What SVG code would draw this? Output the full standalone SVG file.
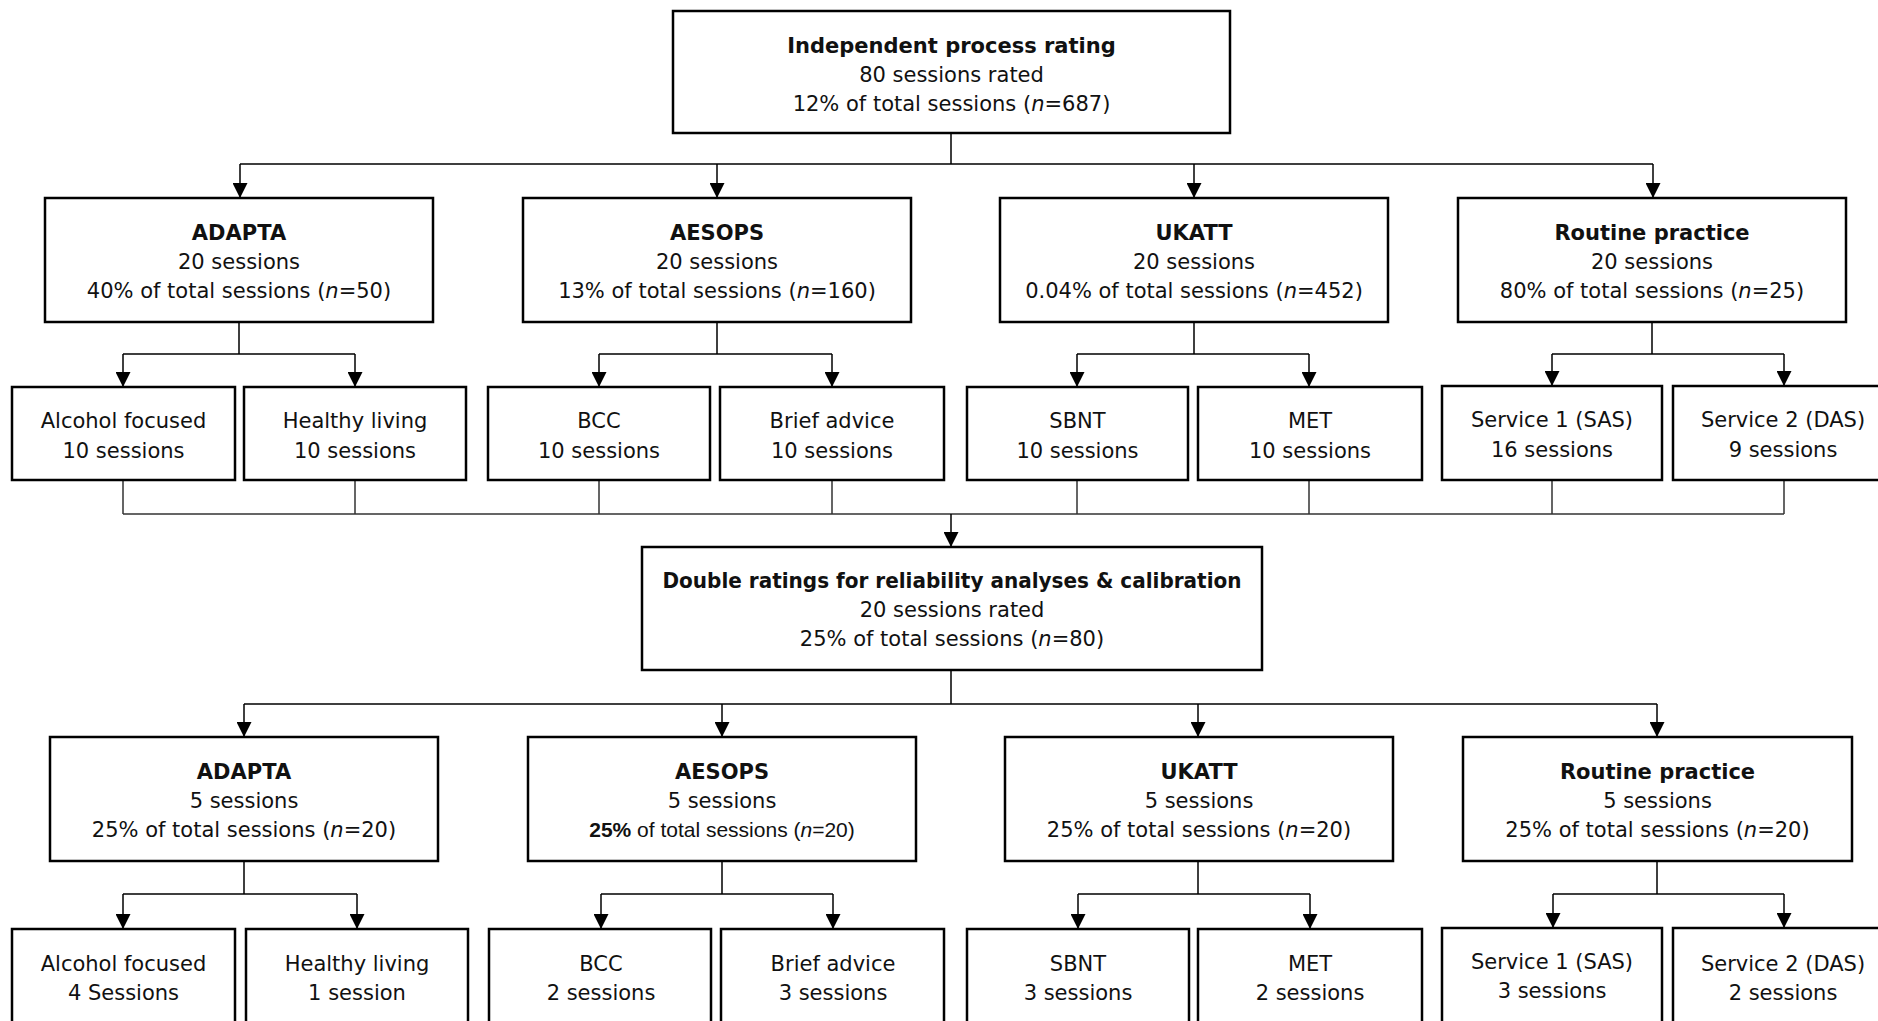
<svg xmlns="http://www.w3.org/2000/svg" width="1878" height="1021" viewBox="0 0 1878 1021">
<style>
  .box { fill: #ffffff; stroke: #000000; stroke-width: 2.5; }
  .cn { fill: none; stroke: #000000; stroke-width: 1.5; }
  .mg { fill: none; stroke: #333333; stroke-width: 1.5; }
  text { font-family: "DejaVu Sans", "Liberation Sans", sans-serif; font-size: 21px; fill: #111111; text-anchor: middle; }
  .b { font-weight: bold; }
  .i { font-style: italic; }
  .alt { font-family: "Liberation Sans", Arial, sans-serif; }
</style>
<defs>
  <marker id="ah" viewBox="0 0 15 15" refX="15" refY="7.5" markerWidth="15" markerHeight="15" markerUnits="userSpaceOnUse" orient="auto">
    <path d="M0,0 L15,7.5 L0,15 z" fill="#000000"/>
  </marker>
</defs>
<rect width="1878" height="1021" fill="#ffffff"/>

<g id="connectors">
  <!-- top to row 2 -->
  <path class="cn" d="M951,133 V164 M240,164 H1653"/>
  <path class="cn" d="M240,164 V198" marker-end="url(#ah)"/>
  <path class="cn" d="M717,164 V198" marker-end="url(#ah)"/>
  <path class="cn" d="M1194,164 V198" marker-end="url(#ah)"/>
  <path class="cn" d="M1653,164 V198" marker-end="url(#ah)"/>
  <!-- row 2 branches -->
  <path class="cn" d="M239,322 V354 M123,354 H355"/>
  <path class="cn" d="M123,354 V387" marker-end="url(#ah)"/>
  <path class="cn" d="M355,354 V387" marker-end="url(#ah)"/>
  <path class="cn" d="M717,322 V354 M599,354 H832"/>
  <path class="cn" d="M599,354 V387" marker-end="url(#ah)"/>
  <path class="cn" d="M832,354 V387" marker-end="url(#ah)"/>
  <path class="cn" d="M1194,322 V354 M1077,354 H1309"/>
  <path class="cn" d="M1077,354 V387" marker-end="url(#ah)"/>
  <path class="cn" d="M1309,354 V387" marker-end="url(#ah)"/>
  <path class="cn" d="M1652,322 V354 M1552,354 H1784"/>
  <path class="cn" d="M1552,354 V386" marker-end="url(#ah)"/>
  <path class="cn" d="M1784,354 V386" marker-end="url(#ah)"/>
  <!-- merge to double ratings -->
  <path class="mg" d="M123,480 V514 M355,480 V514 M599,480 V514 M832,480 V514 M1077,480 V514 M1309,480 V514 M1552,480 V514 M1784,480 V514 M123,514 H1784"/>
  <path class="cn" d="M951,514 V547" marker-end="url(#ah)"/>
  <!-- double to row 4 -->
  <path class="cn" d="M951,670 V704 M244,704 H1657"/>
  <path class="cn" d="M244,704 V737" marker-end="url(#ah)"/>
  <path class="cn" d="M722,704 V737" marker-end="url(#ah)"/>
  <path class="cn" d="M1198,704 V737" marker-end="url(#ah)"/>
  <path class="cn" d="M1657,704 V737" marker-end="url(#ah)"/>
  <!-- row 4 branches -->
  <path class="cn" d="M244,861 V894 M123,894 H357"/>
  <path class="cn" d="M123,894 V929" marker-end="url(#ah)"/>
  <path class="cn" d="M357,894 V929" marker-end="url(#ah)"/>
  <path class="cn" d="M722,861 V894 M601,894 H833"/>
  <path class="cn" d="M601,894 V929" marker-end="url(#ah)"/>
  <path class="cn" d="M833,894 V929" marker-end="url(#ah)"/>
  <path class="cn" d="M1198,861 V894 M1078,894 H1310"/>
  <path class="cn" d="M1078,894 V929" marker-end="url(#ah)"/>
  <path class="cn" d="M1310,894 V929" marker-end="url(#ah)"/>
  <path class="cn" d="M1657,861 V894 M1553,894 H1784"/>
  <path class="cn" d="M1553,894 V928" marker-end="url(#ah)"/>
  <path class="cn" d="M1784,894 V928" marker-end="url(#ah)"/>
</g>

<g id="node-top">
  <rect class="box" x="673" y="11" width="557" height="122"/>
  <text x="951.5" y="53" class="b">Independent process rating</text>
  <text x="951.5" y="82">80 sessions rated</text>
  <text x="951.5" y="111">12% of total sessions (<tspan class="i">n</tspan>=687)</text>
</g>

<g id="node-adapta-1">
  <rect class="box" x="45" y="198" width="388" height="124"/>
  <text x="239" y="240" class="b">ADAPTA</text>
  <text x="239" y="269">20 sessions</text>
  <text x="239" y="298">40% of total sessions (<tspan class="i">n</tspan>=50)</text>
</g>
<g id="node-aesops-1">
  <rect class="box" x="523" y="198" width="388" height="124"/>
  <text x="717" y="240" class="b">AESOPS</text>
  <text x="717" y="269">20 sessions</text>
  <text x="717" y="298">13% of total sessions (<tspan class="i">n</tspan>=160)</text>
</g>
<g id="node-ukatt-1">
  <rect class="box" x="1000" y="198" width="388" height="124"/>
  <text x="1194" y="240" class="b">UKATT</text>
  <text x="1194" y="269">20 sessions</text>
  <text x="1194" y="298">0.04% of total sessions (<tspan class="i">n</tspan>=452)</text>
</g>
<g id="node-routine-1">
  <rect class="box" x="1458" y="198" width="388" height="124"/>
  <text x="1652" y="240" class="b">Routine practice</text>
  <text x="1652" y="269">20 sessions</text>
  <text x="1652" y="298">80% of total sessions (<tspan class="i">n</tspan>=25)</text>
</g>

<g id="node-alcohol-1">
  <rect class="box" x="12" y="387" width="223" height="93"/>
  <text x="123.5" y="428">Alcohol focused</text>
  <text x="123.5" y="458">10 sessions</text>
</g>
<g id="node-healthy-1">
  <rect class="box" x="244" y="387" width="222" height="93"/>
  <text x="355" y="428">Healthy living</text>
  <text x="355" y="458">10 sessions</text>
</g>
<g id="node-bcc-1">
  <rect class="box" x="488" y="387" width="222" height="93"/>
  <text x="599" y="428">BCC</text>
  <text x="599" y="458">10 sessions</text>
</g>
<g id="node-brief-1">
  <rect class="box" x="720" y="387" width="224" height="93"/>
  <text x="832" y="428">Brief advice</text>
  <text x="832" y="458">10 sessions</text>
</g>
<g id="node-sbnt-1">
  <rect class="box" x="967" y="387" width="221" height="93"/>
  <text x="1077.5" y="428">SBNT</text>
  <text x="1077.5" y="458">10 sessions</text>
</g>
<g id="node-met-1">
  <rect class="box" x="1198" y="387" width="224" height="93"/>
  <text x="1310" y="428">MET</text>
  <text x="1310" y="458">10 sessions</text>
</g>
<g id="node-service1-1">
  <rect class="box" x="1442" y="386" width="220" height="94"/>
  <text x="1552" y="427">Service 1 (SAS)</text>
  <text x="1552" y="457">16 sessions</text>
</g>
<g id="node-service2-1">
  <rect class="box" x="1673" y="386" width="220" height="94"/>
  <text x="1783" y="427">Service 2 (DAS)</text>
  <text x="1783" y="457">9 sessions</text>
</g>

<g id="node-double">
  <rect class="box" x="642" y="547" width="620" height="123"/>
  <text x="952" y="588" class="b" textLength="579" lengthAdjust="spacingAndGlyphs">Double ratings for reliability analyses &amp; calibration</text>
  <text x="952" y="617">20 sessions rated</text>
  <text x="952" y="646">25% of total sessions (<tspan class="i">n</tspan>=80)</text>
</g>

<g id="node-adapta-2">
  <rect class="box" x="50" y="737" width="388" height="124"/>
  <text x="244" y="779" class="b">ADAPTA</text>
  <text x="244" y="808">5 sessions</text>
  <text x="244" y="837">25% of total sessions (<tspan class="i">n</tspan>=20)</text>
</g>
<g id="node-aesops-2">
  <rect class="box" x="528" y="737" width="388" height="124"/>
  <text x="722" y="779" class="b">AESOPS</text>
  <text x="722" y="808">5 sessions</text>
  <text x="722" y="837" class="alt"><tspan class="b">25%</tspan> of total sessions (<tspan class="i">n</tspan>=20)</text>
</g>
<g id="node-ukatt-2">
  <rect class="box" x="1005" y="737" width="388" height="124"/>
  <text x="1199" y="779" class="b">UKATT</text>
  <text x="1199" y="808">5 sessions</text>
  <text x="1199" y="837">25% of total sessions (<tspan class="i">n</tspan>=20)</text>
</g>
<g id="node-routine-2">
  <rect class="box" x="1463" y="737" width="389" height="124"/>
  <text x="1657.5" y="779" class="b">Routine practice</text>
  <text x="1657.5" y="808">5 sessions</text>
  <text x="1657.5" y="837">25% of total sessions (<tspan class="i">n</tspan>=20)</text>
</g>

<g id="node-alcohol-2">
  <rect class="box" x="12" y="929" width="223" height="110"/>
  <text x="123.5" y="971">Alcohol focused</text>
  <text x="123.5" y="1000">4 Sessions</text>
</g>
<g id="node-healthy-2">
  <rect class="box" x="246" y="929" width="222" height="110"/>
  <text x="357" y="971">Healthy living</text>
  <text x="357" y="1000">1 session</text>
</g>
<g id="node-bcc-2">
  <rect class="box" x="489" y="929" width="222" height="110"/>
  <text x="601" y="971">BCC</text>
  <text x="601" y="1000">2 sessions</text>
</g>
<g id="node-brief-2">
  <rect class="box" x="721" y="929" width="223" height="110"/>
  <text x="833" y="971">Brief advice</text>
  <text x="833" y="1000">3 sessions</text>
</g>
<g id="node-sbnt-2">
  <rect class="box" x="967" y="929" width="222" height="110"/>
  <text x="1078" y="971">SBNT</text>
  <text x="1078" y="1000">3 sessions</text>
</g>
<g id="node-met-2">
  <rect class="box" x="1198" y="929" width="224" height="110"/>
  <text x="1310" y="971">MET</text>
  <text x="1310" y="1000">2 sessions</text>
</g>
<g id="node-service1-2">
  <rect class="box" x="1442" y="928" width="220" height="110"/>
  <text x="1552" y="969">Service 1 (SAS)</text>
  <text x="1552" y="998">3 sessions</text>
</g>
<g id="node-service2-2">
  <rect class="box" x="1673" y="928" width="220" height="110"/>
  <text x="1783" y="971">Service 2 (DAS)</text>
  <text x="1783" y="1000">2 sessions</text>
</g>
</svg>
